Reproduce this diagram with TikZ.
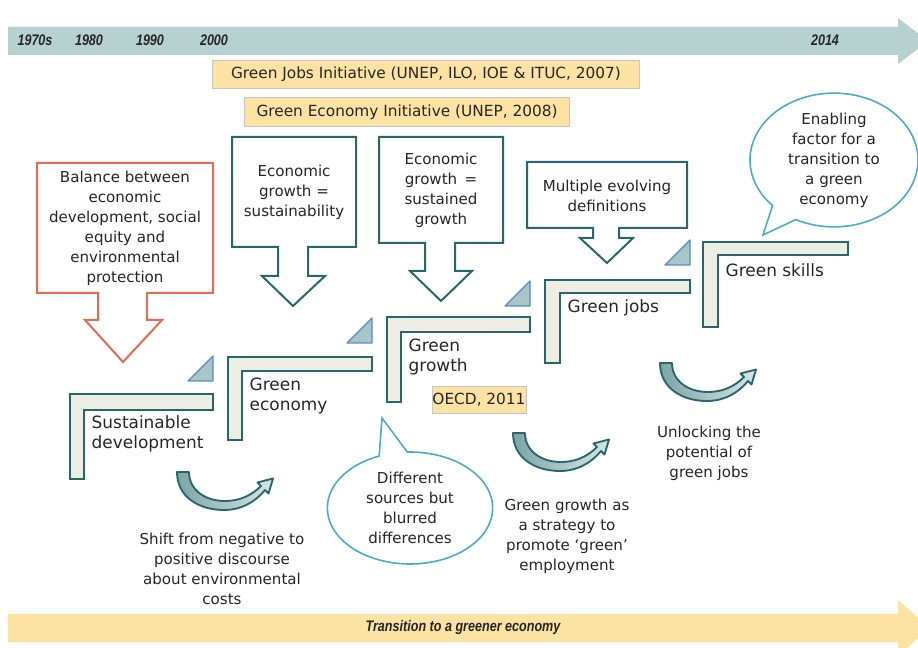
\documentclass[tikz,border=0pt]{standalone}
\usepackage{fontspec}
\setmainfont{DejaVu Sans}
\newfontfamily\yearfont[FakeStretch=0.82]{Liberation Sans}
\usepackage{tikz}
\usetikzlibrary{positioning,shapes.callouts}
\definecolor{bandgrey}{RGB}{183,208,208}
\definecolor{bandyellow}{RGB}{252,226,163}
\definecolor{boxteal}{RGB}{40,104,108}
\definecolor{boxred}{RGB}{228,108,85}
\definecolor{stepfill}{RGB}{237,237,227}
\definecolor{trifill}{RGB}{168,197,200}
\definecolor{triedge}{RGB}{90,140,195}
\definecolor{bubbleblue}{RGB}{75,172,198}
\definecolor{txtgrey}{RGB}{38,38,38}

\begin{document}
\begin{tikzpicture}[x=0.75pt,y=-0.75pt,
    yearlbl/.style={text=txtgrey, font=\yearfont\bfseries\itshape\fontsize{11.5}{12}\selectfont},
    yellowbox/.style={draw=gray!45, fill=bandyellow, inner sep=0pt, text=txtgrey, font=\fontsize{11.5}{13}\selectfont},
    boxtext/.style={align=center, text=txtgrey, font=\fontsize{11.3}{15}\selectfont},
    steplbl/.style={anchor=west, align=left, text=txtgrey, font=\fontsize{12.7}{15}\selectfont},
    downarrow/.style={draw=boxteal, line width=1.5pt, fill=white, line join=miter},
    stepL/.style={draw=boxteal, line width=1.4pt, fill=stepfill},
    tri/.style={draw=triedge, fill=trifill, line width=0.9pt, line join=round},
    bubble/.style={ellipse callout, draw=bubbleblue, line width=1.2pt, fill=white, inner sep=0pt,
      callout pointer arc=20, align=center, text=txtgrey, font=\fontsize{11.3}{15}\selectfont},
    curvy/.style={draw=boxteal, line width=1.4pt, line join=round, left color=boxteal!60, right color=boxteal!18}]
  \useasboundingbox (0,0) rectangle (918,648);
  \clip (0,0) rectangle (918,648);
  % Timeline band on top
  \fill[bandgrey] (8,27) -- (898,27) -- (898,18) -- (928,41) -- (898,64) -- (898,55) -- (8,55) -- cycle;
  \node[yearlbl] (y1970) at (35,40) {1970s};
  \node[yearlbl] (y1980) at (89,40) {1980};
  \node[yearlbl] (y1990) at (150,40) {1990};
  \node[yearlbl] (y2000) at (214,40) {2000};
  \node[yearlbl] (y2014) at (825,40) {2014};
  % Initiatives
  \node[yellowbox, minimum width=320pt, minimum height=21pt] (gji) at (426,74) {Green Jobs Initiative (UNEP, ILO, IOE \& ITUC, 2007)};
  \node[yellowbox, minimum width=244pt, minimum height=21.5pt] (gei) at (407,112) {Green Economy Initiative (UNEP, 2008)};
  \node[yellowbox, minimum width=70.5pt, minimum height=20pt] (oecd) at (479,400) {OECD, 2011};
  % Block arrows pointing down on the steps
  \draw[downarrow, draw=boxred] (37,163) -- (213,163) -- (213,293) -- (147,293) -- (147,320) -- (162,320)
    -- (123,362) -- (85,320) -- (98,320) -- (98,293) -- (37,293) -- cycle;
  \node[boxtext] (balance) at (125,228) {Balance between\\economic\\development, social\\equity and\\environmental\\protection};
  \draw[downarrow] (232,137) -- (356,137) -- (356,247) -- (308,247) -- (308,276) -- (325,276)
    -- (293,306) -- (262,276) -- (278,276) -- (278,247) -- (232,247) -- cycle;
  \node[boxtext] (ecsust) at (294,192) {Economic\\growth =\\sustainability};
  \draw[downarrow] (379,137) -- (503,137) -- (503,243) -- (455,243) -- (455,271) -- (472,271)
    -- (441,301) -- (410,271) -- (425,271) -- (425,243) -- (379,243) -- cycle;
  \node[boxtext] (ecgrowth) at (441,190) {Economic\\growth \,=\\sustained\\growth};
  \draw[downarrow] (527,162) -- (687,162) -- (687,228) -- (619,228) -- (619,238) -- (633,238)
    -- (607,263) -- (580,238) -- (593,238) -- (593,228) -- (527,228) -- cycle;
  \node[boxtext] (multi) at (607,196) {Multiple evolving\\definitions};
  % Steps
  \draw[stepL] (70,394) -- (213,394) -- (213,410) -- (84,410) -- (84,479) -- (70,479) -- cycle;
  \node[steplbl] (sustdev) at (87,434) {Sustainable\\development};
  \draw[stepL] (228,357) -- (372,357) -- (372,371) -- (242,371) -- (242,440) -- (228,440) -- cycle;
  \node[steplbl] (greenecon) at (245,396) {Green\\economy};
  \draw[stepL] (387,317) -- (530,317) -- (530,332) -- (401,332) -- (401,402) -- (387,402) -- cycle;
  \node[steplbl] (greengrowth) at (404,357) {Green\\growth};
  \draw[stepL] (545,280) -- (690,280) -- (690,293) -- (560,293) -- (560,363) -- (545,363) -- cycle;
  \node[steplbl] (greenjobs) at (563,308) {Green jobs};
  \draw[stepL] (703,242) -- (848,242) -- (848,255) -- (718,255) -- (718,327) -- (703,327) -- cycle;
  \node[steplbl] (greenskills) at (721,270) {Green skills};
  % Little triangles between the steps
  \foreach \tx/\ty in {213/381, 372/343, 530/306, 690/265}
    \draw[tri] (\tx-25,\ty) -- (\tx,\ty-25) -- (\tx,\ty) -- cycle;
  % Speech bubbles
  \node[bubble, minimum width=124pt, minimum height=84pt, callout absolute pointer={(382,418)}] (blurred) at (410,508)
    {Different\\sources but\\blurred\\differences};
  \node[bubble, minimum width=126pt, minimum height=96pt, callout absolute pointer={(763,235)}] (enabling) at (834,160)
    {Enabling\\factor for a\\transition to\\a green\\economy};
  % Curved arrows
  \foreach \ox/\oy in {177/472, 513/433, 660/363}
    \draw[curvy, shift={(\ox,\oy)}] (0,0) .. controls (0,25) and (22,38) .. (47,38)
      .. controls (66,38) and (80,28) .. (88,18) -- (91.5,21.5) -- (96,6.5) -- (80.5,10.5)
      -- (84,14) .. controls (74,24) and (62,29) .. (48,29) .. controls (28,29) and (12,18) .. (12,0) -- cycle;
  \node[boxtext] (shift) at (222,569) {Shift from negative to\\positive discourse\\about environmental\\costs};
  \node[boxtext] (strategy) at (567,536) {Green growth as\\a strategy to\\promote ‘green’\\employment};
  \node[boxtext] (unlock) at (709,453) {Unlocking the\\potential of\\green jobs};
  % Transition band at the bottom
  \fill[bandyellow] (8,614) -- (898,614) -- (898,600) -- (930,628) -- (898,656) -- (898,642) -- (8,642) -- cycle;
  \node[yearlbl] (transition) at (463,628) {Transition to a greener economy};
\end{tikzpicture}
\end{document}
